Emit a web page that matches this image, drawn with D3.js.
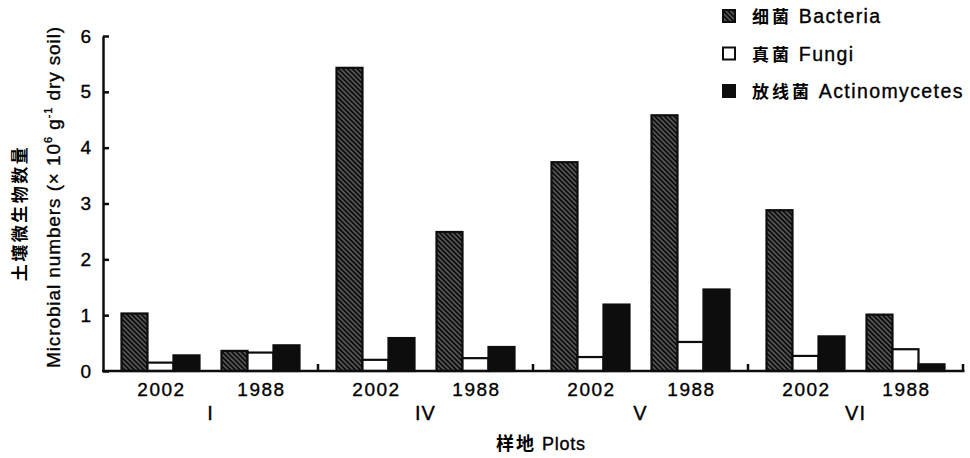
<!DOCTYPE html>
<html>
<head>
<meta charset="utf-8">
<script src="https://cdn.jsdelivr.net/npm/d3@7"></script>
<style>
  body { margin: 0; background: #fff; }
  svg text { font-family: "Liberation Sans", Arial, sans-serif; fill: #000; stroke: #000; stroke-width: 0.35px; }
  .cjk { font-family: "Noto Sans CJK SC", sans-serif; font-weight: bold; stroke-width: 0; }
</style>
</head>
<body>
<svg id="chart" width="970" height="458"></svg>
<script>
// plots (groups) and sampling years (subgroups)
const plots = ["I", "IV", "V", "VI"];
const years = ["2002", "1988"];
const series = ["bacteria", "fungi", "actino"];
const seriesLabels = ["细菌 Bacteria", "真菌 Fungi", "放线菌 Actinomycetes"];
const yTicks = [0, 1, 2, 3, 4, 5, 6];

// values, x 10^6 g-1 dry soil, order: I-2002, I-1988, IV-2002, IV-1988, V-2002, V-1988, VI-2002, VI-1988
const bacteria = [1.03, 0.36, 5.43, 2.49, 3.74, 4.58, 2.88, 1.01];
const fungi    = [0.15, 0.33, 0.20, 0.23, 0.25, 0.52, 0.27, 0.39];
const actino   = [0.28, 0.46, 0.59, 0.43, 1.19, 1.46, 0.62, 0.12];

const values = { bacteria, fungi, actino };

const svg = d3.select("#chart");

// hatch for bacteria
const defs = svg.append("defs");
const pat = defs.append("pattern")
  .attr("id", "hatch")
  .attr("patternUnits", "userSpaceOnUse")
  .attr("width", 3.4)
  .attr("height", 3.4)
  .attr("patternTransform", "rotate(-45)");
pat.append("rect").attr("width", 3.4).attr("height", 3.4).attr("fill", "#0d0d0d");
pat.append("line")
  .attr("x1", 1.7).attr("y1", 0).attr("x2", 1.7).attr("y2", 3.4)
  .attr("stroke", "#d8d8d8").attr("stroke-width", 0.6);

const fills = { bacteria: "url(#hatch)", fungi: "#fff", actino: "#0d0d0d" };

const x0 = d3.scaleBand().domain(plots).range([103, 963]).padding(0);
const x1 = d3.scaleBand().domain(years).range([0, x0.bandwidth()])
  .paddingInner(0.22).paddingOuter(0.185);
const x2 = d3.scaleBand().domain(series).range([0, x1.bandwidth()]).padding(0);
const y = d3.scaleLinear().domain([0, 6]).range([371, 36]);

// rows
const rows = [];
plots.forEach((p, i) => {
  years.forEach((yr, j) => {
    const k = i * 2 + j;
    series.forEach(s => rows.push({ plot: p, year: yr, s, v: values[s][k] }));
  });
});

svg.append("g")
  .selectAll("rect")
  .data(rows)
  .enter()
  .append("rect")
  .attr("x", d => x0(d.plot) + x1(d.year) + x2(d.s))
  .attr("y", d => y(d.v))
  .attr("width", x2.bandwidth())
  .attr("height", d => y(0) - y(d.v))
  .attr("fill", d => fills[d.s])
  .attr("stroke", "#0d0d0d")
  .attr("stroke-width", 2.2);

// y axis, ticks inward
const yAxis = d3.axisLeft(y)
  .tickValues(yTicks)
  .tickFormat(d3.format("d"))
  .tickSizeInner(-6)
  .tickSizeOuter(0)
  .tickPadding(12);

const gy = svg.append("g")
  .attr("transform", "translate(103,0)")
  .call(yAxis);
gy.select(".domain").attr("stroke", "#0d0d0d").attr("stroke-width", 2.5);
gy.selectAll(".tick line").attr("stroke", "#0d0d0d").attr("stroke-width", 2.5);
gy.selectAll(".tick text")
  .attr("font-size", 19)
  .attr("font-family", "Liberation Sans, Arial, sans-serif")
  .attr("fill", "#000");

// x axis line with group boundary ticks pointing up
svg.append("line")
  .attr("x1", 102).attr("x2", x0.range()[1] + 1.5)
  .attr("y1", y(0)).attr("y2", y(0))
  .attr("stroke", "#0d0d0d").attr("stroke-width", 2.5);

svg.append("g")
  .selectAll("line")
  .data(plots)
  .enter()
  .append("line")
  .attr("x1", d => x0(d) + x0.bandwidth())
  .attr("x2", d => x0(d) + x0.bandwidth())
  .attr("y1", y(0))
  .attr("y2", y(0) - 7)
  .attr("stroke", "#0d0d0d").attr("stroke-width", 2.5);

// year labels
const yearRows = [];
plots.forEach(p => years.forEach(yr => yearRows.push({ plot: p, year: yr })));
svg.append("g")
  .selectAll("text")
  .data(yearRows)
  .enter()
  .append("text")
  .attr("x", d => x0(d.plot) + x1(d.year) + x1.bandwidth() / 2 + 1)
  .attr("y", 396)
  .attr("text-anchor", "middle")
  .attr("font-size", 19)
  .attr("letter-spacing", 1.5)
  .text(d => d.year);

// plot labels
svg.append("g")
  .selectAll("text")
  .data(plots)
  .enter()
  .append("text")
  .attr("x", d => x0(d) + x0.bandwidth() / 2)
  .attr("y", 420)
  .attr("text-anchor", "middle")
  .attr("font-size", 20)
  .attr("letter-spacing", 1)
  .text(d => d);

// x title
const xt = svg.append("text")
  .attr("x", 541)
  .attr("y", 450)
  .attr("text-anchor", "middle")
  .attr("font-size", 18);
xt.append("tspan").attr("class", "cjk").attr("letter-spacing", 2).text("样地");
xt.append("tspan").attr("letter-spacing", 0.8).text(" Plots");

// y titles
svg.append("text")
  .attr("class", "cjk")
  .attr("transform", "translate(26,213) rotate(-90)")
  .attr("text-anchor", "middle")
  .attr("font-size", 17)
  .attr("letter-spacing", 2.5)
  .text("土壤微生物数量");

const yt = svg.append("text")
  .attr("transform", "translate(60,197) rotate(-90)")
  .attr("text-anchor", "middle")
  .attr("font-size", 19)
  .attr("letter-spacing", 0.9);
yt.append("tspan").text("Microbial numbers (× 10");
yt.append("tspan").attr("font-size", 11).attr("dy", -8).text("6");
yt.append("tspan").attr("dy", 8).text(" g");
yt.append("tspan").attr("font-size", 11).attr("dy", -8).text("-1");
yt.append("tspan").attr("dy", 8).text(" dry soil)");

// legend
const legend = svg.append("g").attr("transform", "translate(722,0)");
const ly = d3.scalePoint().domain(series).range([16, 91]);
legend.selectAll("rect")
  .data(series)
  .enter()
  .append("rect")
  .attr("x", 1)
  .attr("y", d => ly(d) - 6)
  .attr("width", 12)
  .attr("height", 12)
  .attr("fill", d => fills[d])
  .attr("stroke", "#0d0d0d")
  .attr("stroke-width", 2);

legend.selectAll("text")
  .data(series)
  .enter()
  .append("text")
  .attr("x", 30)
  .attr("y", d => ly(d) + 7)
  .attr("font-size", 19.5)
  .each(function (d, i) {
    const parts = seriesLabels[i].split(" ");
    const t = d3.select(this);
    t.append("tspan").attr("class", "cjk").attr("font-size", 17).attr("letter-spacing", 3).text(parts[0]);
    t.append("tspan").attr("letter-spacing", 1.4).text(" " + parts.slice(1).join(" "));
  });
</script>
</body>
</html>
